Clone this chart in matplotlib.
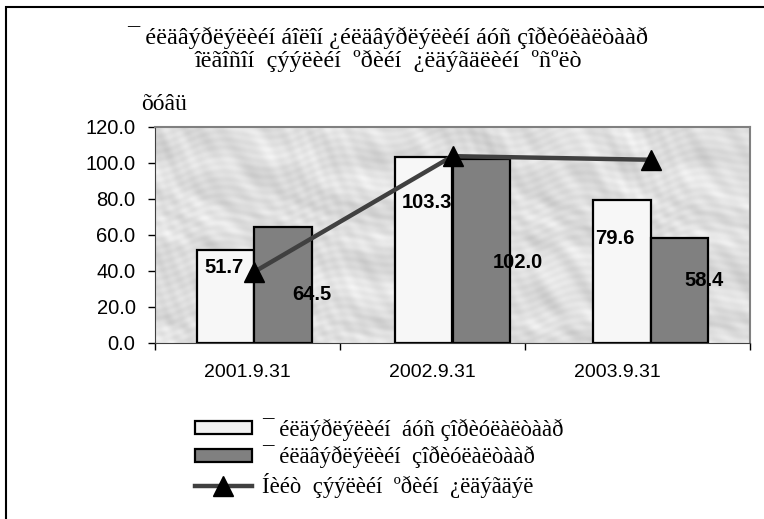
import matplotlib
matplotlib.use("Agg")
import matplotlib.pyplot as plt
from matplotlib.patches import Patch, Rectangle
from matplotlib.lines import Line2D
import numpy as np

# data
dates = ['2001.9.31', '2002.9.31', '2003.9.31']
non_prod = [51.7, 103.3, 79.6]      # white bars
prod = [64.5, 102.0, 58.4]          # grey bars
total = [39.5, 103.8, 101.8]        # line

title = ('¯ éëäâýðëýëèéí áîëîí ¿éëäâýðëýëèéí áóñ çîðèóëàëòààð\n'
         'îëãîñîí  çýýëèéí  ºðèéí  ¿ëäýãäëèéí  ºñºëò')
unit = 'õóâü'
leg_labels = ['¯ éëäýðëýëèéí  áóñ çîðèóëàëòààð',
              '¯ éëäâýðëýëèéí  çîðèóëàëòààð',
              'Íèéò  çýýëèéí  ºðèéí  ¿ëäýãäýë']

serif = ['Liberation Serif', 'DejaVu Serif']
sans = ['Liberation Sans', 'DejaVu Sans']

fig = plt.figure(figsize=(7.64, 5.19), dpi=100)
ax = fig.add_axes([155/764, 1-343/519, (750-155)/764, (343-127)/519])

# marble-ish background (deterministic pattern)
gx, gy = np.meshgrid(np.linspace(0, 1, 400), np.linspace(0, 1, 150))
tex = (0.87 + 0.025*np.sin(40*gx + 25*gy + 3*np.sin(9*gx))
       + 0.02*np.sin(13*gx - 7*gy + 2*np.cos(17*gy))
       + 0.02*np.sin(90*gx + 55*gy + 4*np.sin(11*gy))
       + 0.015*np.sin(230*gx + 41*gy + 3*np.sin(23*gx))
       + 0.012*np.sin(170*gy - 60*gx + 5*np.cos(31*gx)))
ax.imshow(tex, cmap='gray', vmin=0, vmax=1, extent=(-0.5, 2.5, 0, 120),
          aspect='auto', origin='lower', zorder=0, interpolation='bilinear')

x = np.arange(len(dates))
w = 0.29
ax.bar(x - w/2, non_prod, w, color='#f7f7f7', edgecolor='black', linewidth=1.6, zorder=2)
ax.bar(x + w/2, prod, w, color='#808080', edgecolor='black', linewidth=1.6, zorder=2)
ax.plot(x, total, color='#404040', linewidth=3.2, marker='^', markersize=15,
        markerfacecolor='black', markeredgecolor='black', zorder=4)

# value labels (offsets as in the original)
lab_dx = [(-0.15, 0.29), (-0.13, 0.33), (-0.18, 0.27)]
lab_y = [(41.7, 26.7), (77.8, 45.0), (57.8, 35.0)]
for i in range(len(dates)):
    ax.text(x[i] + lab_dx[i][0], lab_y[i][0], f'{non_prod[i]:.1f}', ha='center', va='center',
            fontsize=14.5, fontweight='bold', family=sans, zorder=5)
    ax.text(x[i] + lab_dx[i][1], lab_y[i][1], f'{prod[i]:.1f}', ha='center', va='center',
            fontsize=14.5, fontweight='bold', family=sans, zorder=5)

ax.set_xlim(-0.5, 2.5)
ax.set_ylim(0, 120)
ax.set_yticks(np.arange(0, 121, 20))
ax.set_yticklabels([f'{v:.1f}' for v in np.arange(0, 121, 20)], family=sans, fontsize=14.5)

# category axis is drawn narrower than the bar area in the original
cw = 0.932
ax.set_xticks([-0.5, -0.5 + cw, -0.5 + 2*cw, 2.5])
ax.set_xticklabels([])
for i, d in enumerate(dates):
    ax.text(-0.5 + cw*(i + 0.5), -16.5, d, ha='center', va='center',
            family=sans, fontsize=14, clip_on=False)

ax.tick_params(axis='both', direction='out', length=5, width=1, color='black')
ax.tick_params(axis='y', pad=9)
for s in ['top', 'right']:
    ax.spines[s].set_color('#808080')
    ax.spines[s].set_linewidth(1.5)
ax.spines['left'].set_color('#404040')
ax.spines['bottom'].set_color('#404040')

fig.text(388/764, 1-49/519, title, ha='center', va='center', family=serif,
         fontsize=17.5, linespacing=1.05)
fig.text(164/764, 1-104/519, unit, ha='center', va='center', family=serif, fontsize=17)

handles = [Patch(facecolor='#f2f2f2', edgecolor='black', linewidth=1.6),
           Patch(facecolor='#808080', edgecolor='black', linewidth=1.6),
           Line2D([], [], color='#404040', linewidth=3.2, marker='^', markersize=15,
                  markerfacecolor='black', markeredgecolor='black')]
fig.legend(handles, leg_labels, loc='upper left', bbox_to_anchor=(195/764, 1-418/519),
           frameon=False, borderpad=0, borderaxespad=0, handlelength=2.5, handleheight=0.5,
           handletextpad=0.45, labelspacing=0.2, prop={'family': serif, 'size': 16.4})

# outer chart frame (cut off at right and bottom)
fig.patches.append(Rectangle((6/764, -0.05), 1.2, 1 - 7/519 + 0.05, transform=fig.transFigure,
                             fill=False, edgecolor='black', linewidth=1.5))

fig.savefig('out.png', dpi=100)
